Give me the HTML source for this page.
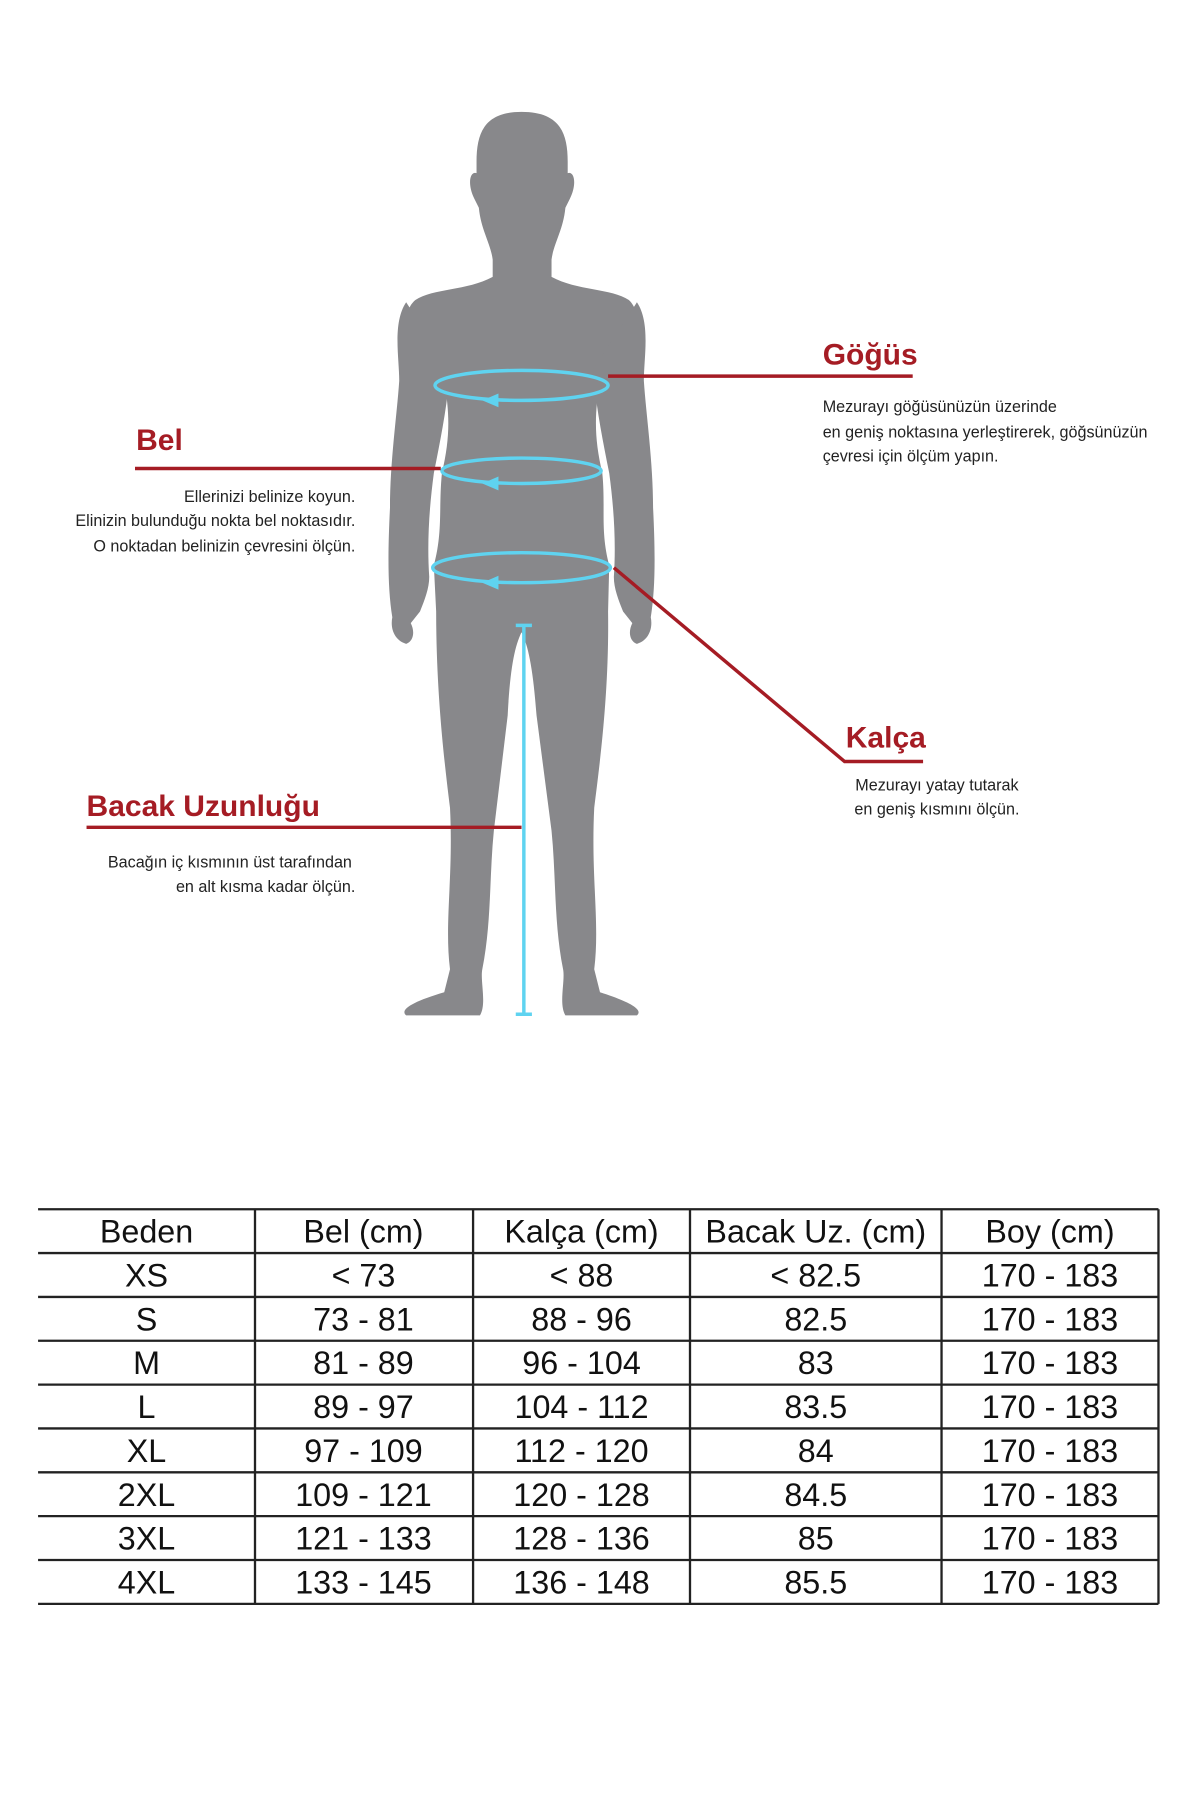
<!DOCTYPE html>
<html><head><meta charset="utf-8"><style>
html,body{margin:0;padding:0;background:#fff;}
svg{display:block;}
text{font-family:"Liberation Sans",sans-serif;}
.t{fill:#a51c24;font-weight:bold;font-size:26px;}
.d{fill:#222;font-size:14px;}
.tb{fill:#111;font-size:28px;text-anchor:middle;}
</style></head><body>
<svg width="1200" height="1800" viewBox="0 0 1040 1560" xmlns="http://www.w3.org/2000/svg">
<rect width="1040" height="1560" fill="#fff"/>
<g fill="#88888b">
<path d="M452,97 C485,97 492,115 492,140 L492,150 C498,148 500,160 494,172 L490,180 C488,200 480,210 478,225 L478,240 C500,252 530,250 545,260 C556,270 552,290 553,310 L520,330 C515,360 515,380 522,410 C525,440 520,460 528,490 L527,530 C528,600 520,660 515,700 C512,760 520,800 515,840 L520,860 C545,868 558,875 552,880 L490,880 C484,870 490,850 488,840 C480,800 482,760 478,720 L465,620 C462,580 458,560 452,548 C446,560 442,580 440,620 L428,720 C424,760 426,800 418,840 C416,850 422,870 416,880 L352,880 C346,875 358,868 385,860 L390,840 C385,800 393,760 390,700 C385,660 378,600 378,530 L376,490 C384,460 380,440 383,410 C390,380 390,360 385,330 L352,310 C353,290 348,270 360,260 C375,250 405,252 427,240 L427,225 C425,210 417,200 415,180 L411,172 C405,160 407,148 413,150 L413,140 C413,115 420,97 452,97 Z"/>
<path d="M352,262 C340,280 346,310 346,330 C344,360 338,400 338,440 C336,480 336,510 340,535 C338,545 342,555 352,558 C358,556 360,548 356,540 L364,530 C368,520 372,510 372,500 C370,470 372,440 376,410 C382,380 388,350 390,320 Z"/>
<path d="M552,262 C564,280 558,310 558,330 C560,360 566,400 566,440 C568,480 568,510 564,535 C566,545 562,555 552,558 C546,556 544,548 548,540 L540,530 C536,520 532,510 532,500 C534,470 532,440 528,410 C522,380 516,350 514,320 Z"/>
</g>
<g fill="none" stroke="#5fd3f0" stroke-width="3">
<ellipse cx="452" cy="334" rx="75" ry="13"/>
<ellipse cx="452" cy="408" rx="69" ry="11"/>
<ellipse cx="452" cy="492" rx="77" ry="13"/>
<line x1="454" y1="542" x2="454" y2="879"/>
<line x1="447" y1="542" x2="461" y2="542"/>
<line x1="447" y1="879" x2="461" y2="879"/>
</g>
<g fill="#5fd3f0">
<polygon points="418,347 432,341 432,353"/>
<polygon points="418,419 432,413 432,425"/>
<polygon points="418,505 432,499 432,511"/>
</g>
<g stroke="#a51c24" stroke-width="3" fill="none">
<line x1="527" y1="326" x2="791" y2="326"/>
<line x1="117" y1="406" x2="382" y2="406"/>
<polyline points="532,492 732,660 800,660"/>
<line x1="75" y1="717" x2="452" y2="717"/>
</g>
<text class="t" x="713" y="316">Göğüs</text>
<text class="d" x="713" y="357">Mezurayı göğüsünüzün üzerinde</text>
<text class="d" x="713" y="379">en geniş noktasına yerleştirerek, göğsünüzün</text>
<text class="d" x="713" y="400">çevresi için ölçüm yapın.</text>
<text class="t" x="118" y="390">Bel</text>
<g text-anchor="end">
<text class="d" x="308" y="435">Ellerinizi belinize koyun.</text>
<text class="d" x="308" y="456">Elinizin bulunduğu nokta bel noktasıdır.</text>
<text class="d" x="308" y="478">O noktadan belinizin çevresini ölçün.</text>
<text class="d" x="305" y="752">Bacağın iç kısmının üst tarafından</text>
<text class="d" x="308" y="773">en alt kısma kadar ölçün.</text>
</g>
<text class="t" x="733" y="648">Kalça</text>
<text class="d" x="812" y="685" text-anchor="middle">Mezurayı yatay tutarak</text>
<text class="d" x="812" y="706" text-anchor="middle">en geniş kısmını ölçün.</text>
<text class="t" x="75" y="707">Bacak Uzunluğu</text>
<g stroke="#222" stroke-width="2" fill="none">
<line x1="33" y1="1048" x2="1004" y2="1048"/>
<line x1="33" y1="1086" x2="1004" y2="1086"/>
<line x1="33" y1="1124" x2="1004" y2="1124"/>
<line x1="33" y1="1162" x2="1004" y2="1162"/>
<line x1="33" y1="1200" x2="1004" y2="1200"/>
<line x1="33" y1="1238" x2="1004" y2="1238"/>
<line x1="33" y1="1276" x2="1004" y2="1276"/>
<line x1="33" y1="1314" x2="1004" y2="1314"/>
<line x1="33" y1="1352" x2="1004" y2="1352"/>
<line x1="33" y1="1390" x2="1004" y2="1390"/>
<line x1="221" y1="1048" x2="221" y2="1390"/>
<line x1="410" y1="1048" x2="410" y2="1390"/>
<line x1="598" y1="1048" x2="598" y2="1390"/>
<line x1="816" y1="1048" x2="816" y2="1390"/>
<line x1="1004" y1="1048" x2="1004" y2="1390"/>
</g>
<g class="tb">
<text class="tb" x="127" y="1077">Beden</text><text class="tb" x="315" y="1077">Bel (cm)</text><text class="tb" x="504" y="1077">Kalça (cm)</text><text class="tb" x="707" y="1077">Bacak Uz. (cm)</text><text class="tb" x="910" y="1077">Boy (cm)</text>
<text class="tb" x="127" y="1115">XS</text><text class="tb" x="315" y="1115">&lt; 73</text><text class="tb" x="504" y="1115">&lt; 88</text><text class="tb" x="707" y="1115">&lt; 82.5</text><text class="tb" x="910" y="1115">170 - 183</text>
<text class="tb" x="127" y="1153">S</text><text class="tb" x="315" y="1153">73 - 81</text><text class="tb" x="504" y="1153">88 - 96</text><text class="tb" x="707" y="1153">82.5</text><text class="tb" x="910" y="1153">170 - 183</text>
<text class="tb" x="127" y="1191">M</text><text class="tb" x="315" y="1191">81 - 89</text><text class="tb" x="504" y="1191">96 - 104</text><text class="tb" x="707" y="1191">83</text><text class="tb" x="910" y="1191">170 - 183</text>
<text class="tb" x="127" y="1229">L</text><text class="tb" x="315" y="1229">89 - 97</text><text class="tb" x="504" y="1229">104 - 112</text><text class="tb" x="707" y="1229">83.5</text><text class="tb" x="910" y="1229">170 - 183</text>
<text class="tb" x="127" y="1267">XL</text><text class="tb" x="315" y="1267">97 - 109</text><text class="tb" x="504" y="1267">112 - 120</text><text class="tb" x="707" y="1267">84</text><text class="tb" x="910" y="1267">170 - 183</text>
<text class="tb" x="127" y="1305">2XL</text><text class="tb" x="315" y="1305">109 - 121</text><text class="tb" x="504" y="1305">120 - 128</text><text class="tb" x="707" y="1305">84.5</text><text class="tb" x="910" y="1305">170 - 183</text>
<text class="tb" x="127" y="1343">3XL</text><text class="tb" x="315" y="1343">121 - 133</text><text class="tb" x="504" y="1343">128 - 136</text><text class="tb" x="707" y="1343">85</text><text class="tb" x="910" y="1343">170 - 183</text>
<text class="tb" x="127" y="1381">4XL</text><text class="tb" x="315" y="1381">133 - 145</text><text class="tb" x="504" y="1381">136 - 148</text><text class="tb" x="707" y="1381">85.5</text><text class="tb" x="910" y="1381">170 - 183</text>
</g>
</svg>
</body></html>
